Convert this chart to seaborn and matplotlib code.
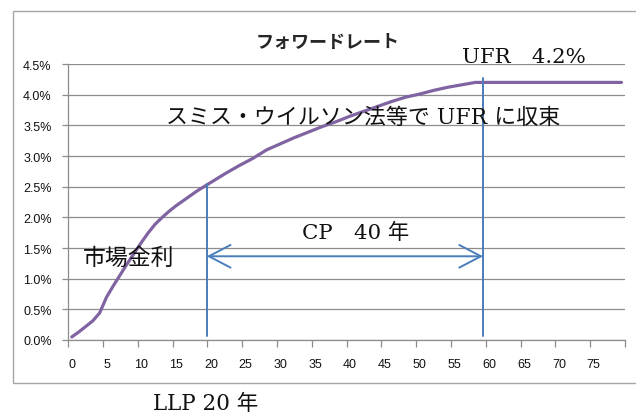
import matplotlib
matplotlib.use("Agg")
import matplotlib.pyplot as plt
import matplotlib.patches as mpatches
from matplotlib.ticker import FixedLocator, FuncFormatter
import numpy as np
import pandas as pd
import seaborn as sns

# Forward rate curve (years, percent)
years = [0, 1, 2, 3, 4, 5, 6, 7, 8, 9, 10, 11, 12, 13, 14, 15, 16, 17, 18, 19,
         20, 22, 24, 26, 28, 30, 32, 34, 36, 38, 40, 42, 44, 46, 48, 50, 52,
         54, 56, 58, 59, 79]
forward_rate = [0.05, 0.13, 0.22, 0.31, 0.44, 0.70, 0.89, 1.07, 1.25, 1.42,
                1.59, 1.75, 1.89, 2.00, 2.10, 2.19, 2.27, 2.35, 2.43, 2.50,
                2.57, 2.71, 2.84, 2.96, 3.10, 3.20, 3.30, 3.39, 3.48, 3.56,
                3.65, 3.73, 3.81, 3.89, 3.96, 4.01, 4.07, 4.12, 4.16, 4.20,
                4.20, 4.20]

x_tick_labels = list(range(0, 80, 5))
y_ticks = [0.0, 0.5, 1.0, 1.5, 2.0, 2.5, 3.0, 3.5, 4.0, 4.5]

ufr = 4.2
llp_x = 19.4          # last liquid point marker
conv_x = 59.1         # convergence point marker
arrow_y = 1.365

title = "フォワードレート"
ufr_label = "UFR　4.2%"
method_label = "スミス・ウイルソン法等で UFR に収束"
market_label = "市場金利"
cp_label = "CP　40 年"
llp_label = "LLP 20 年"

PURPLE = "#8064A2"
BLUE = "#4A7EBB"
GRID = "#8C8C8C"

sns.set_theme(style="white")
plt.rcParams["font.family"] = ["Liberation Sans", "Noto Sans CJK JP"]

W, H = 636, 414
fig = plt.figure(figsize=(W / 100, H / 100), dpi=100)
ax = fig.add_axes([68.3 / W, 73 / H, (625 - 68.3) / W, (341 - 65) / H])

df = pd.DataFrame({"year": years, "rate": forward_rate})
sns.lineplot(data=df, x="year", y="rate", ax=ax, color=PURPLE, lw=2.3,
             estimator=None, solid_capstyle="round", zorder=3)

ax.set_xlim(-0.5, 79.5)
ax.set_ylim(0, 4.5)
ax.set_xlabel("")
ax.set_ylabel("")

# axis styling
for s in ["top", "right"]:
    ax.spines[s].set_visible(False)
for s in ["left", "bottom"]:
    ax.spines[s].set_color(GRID)
    ax.spines[s].set_linewidth(0.9)

ax.yaxis.set_major_locator(FixedLocator(y_ticks))
ax.yaxis.set_major_formatter(FuncFormatter(lambda v, p: f"{v:.1f}%"))
ax.grid(axis="y", color=GRID, lw=0.9)
ax.grid(axis="x", visible=False)
ax.tick_params(axis="y", which="major", direction="out", length=4, width=0.9,
               color=GRID, pad=8, labelsize=9, labelcolor="#111111", left=True)

ax.xaxis.set_major_locator(FixedLocator(x_tick_labels))
ax.xaxis.set_minor_locator(FixedLocator(np.arange(-0.5, 80, 5)))
ax.tick_params(axis="x", which="major", length=0, pad=13, labelsize=9,
               labelcolor="#111111")
ax.tick_params(axis="x", which="minor", direction="out", length=5, width=0.9,
               color=GRID, bottom=True)

# LLP / convergence markers and CP arrow
ax.plot([llp_x, llp_x], [0.07, 2.54], color=BLUE, lw=1.4, zorder=4)
ax.plot([conv_x, conv_x], [0.07, 4.27], color=BLUE, lw=1.4, zorder=4)
ax.annotate("", xy=(llp_x, arrow_y), xytext=(conv_x, arrow_y),
            arrowprops=dict(arrowstyle="<->,head_length=1.3,head_width=0.68",
                            color=BLUE, lw=1.4, shrinkA=0, shrinkB=0),
            zorder=4)

serif = ["DejaVu Serif", "Noto Sans CJK JP"]
fig.text(328 / W, 1 - 42 / H, title, ha="center", va="center", fontsize=13,
         fontweight="bold", family=["Noto Sans CJK JP"])
fig.text(523.5 / W, 1 - 63 / H, ufr_label, ha="center", va="baseline",
         fontsize=15.3, family=serif, color="#111111")
fig.text(165.7 / W, 1 - 118 / H, method_label, ha="left", va="center",
         fontsize=15.8, family=serif, color="#111111")
fig.text(83 / W, 1 - 259 / H, market_label, ha="left", va="center",
         fontsize=16.5, family=serif, color="#111111")
fig.text(302 / W, 1 - 233 / H, cp_label, ha="left", va="center",
         fontsize=15.4, family=serif, color="#111111")
fig.text(153 / W, 1 - 404 / H, llp_label, ha="left", va="center",
         fontsize=15.5, family=serif, color="#111111")

# chart frame
fig.add_artist(mpatches.Rectangle((12.7 / W, 1 - 384 / H), 1.2, (384 - 11.7) / H,
                                  transform=fig.transFigure, fill=False,
                                  edgecolor="#A6A6A6", lw=1.0))

fig.savefig("out.png", dpi=100)
